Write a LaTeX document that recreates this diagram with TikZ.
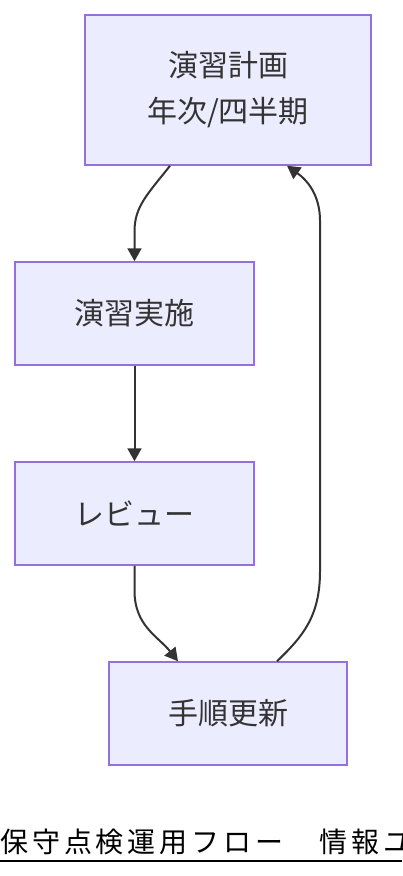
\documentclass[tikz,border=0pt]{standalone}
\usepackage{fontspec}
\setmainfont{Noto Sans CJK JP}
\newfontfamily\titlefont[LetterSpace=14]{Noto Sans CJK JP}
\usetikzlibrary{arrows.meta,calc}
\definecolor{nodefill}{HTML}{ECECFF}
\definecolor{nodeline}{HTML}{9370DB}
\definecolor{edgecol}{HTML}{333333}
\begin{document}
\begin{tikzpicture}[x=1pt,y=-1pt,
 box/.style={draw=nodeline,fill=nodefill,line width=1.5pt,text=edgecol,font=\fontsize{30}{46}\selectfont,inner sep=0pt,align=center},
 flow/.style={draw=edgecol,line width=2pt,-{Triangle[length=13pt,width=14pt]}}]
\useasboundingbox (0,0) rectangle (402,876);
\clip (0,0) rectangle (402,876);
\node[box,minimum width=286pt,minimum height=150pt] (n1) at (228,90) {演習計画\\年次/四半期};
\node[box,minimum width=239pt,minimum height=103pt] (n2) at (134.5,313.5) {演習実施};
\node[box,minimum width=239pt,minimum height=103pt] (n3) at (134.5,513.5) {レビュー};
\node[box,minimum width=238pt,minimum height=103pt] (n4) at (228,713.5) {手順更新};
\draw[flow] ($(n1.south)+(-58,0)$) .. controls ($(n1.south)+(-80,28)$) and ($(n2.north)+(0,-55)$) .. ($(n2.north)+(0,-30)$) -- (n2.north);
\draw[flow] (n2.south) -- (n3.north);
\draw[flow] (n3.south) -- ($(n3.south)+(0,25)$) .. controls ($(n3.south)+(0,60)$) and ($(n4.north)+(-70,-25)$) .. ($(n4.north)+(-50,0)$);
\draw[flow] ($(n4.north)+(49,0)$) .. controls ($(n4.north)+(75,-25)$) and ($(n4.north)+(92,-45)$) .. ($(n4.north)+(92,-90)$) -- ($(n1.south)+(92,55)$) .. controls ($(n1.south)+(92,30)$) and ($(n1.south)+(80,15)$) .. ($(n1.south)+(59,0)$);
\node[anchor=base west,inner sep=0pt,text=black,font=\titlefont\fontsize{28}{28}\selectfont] (title) at (0,852) {保守点検運用フロー　情報ユ};
\draw[line width=2pt,black] (0,861) -- (402,861);
\end{tikzpicture}
\end{document}
